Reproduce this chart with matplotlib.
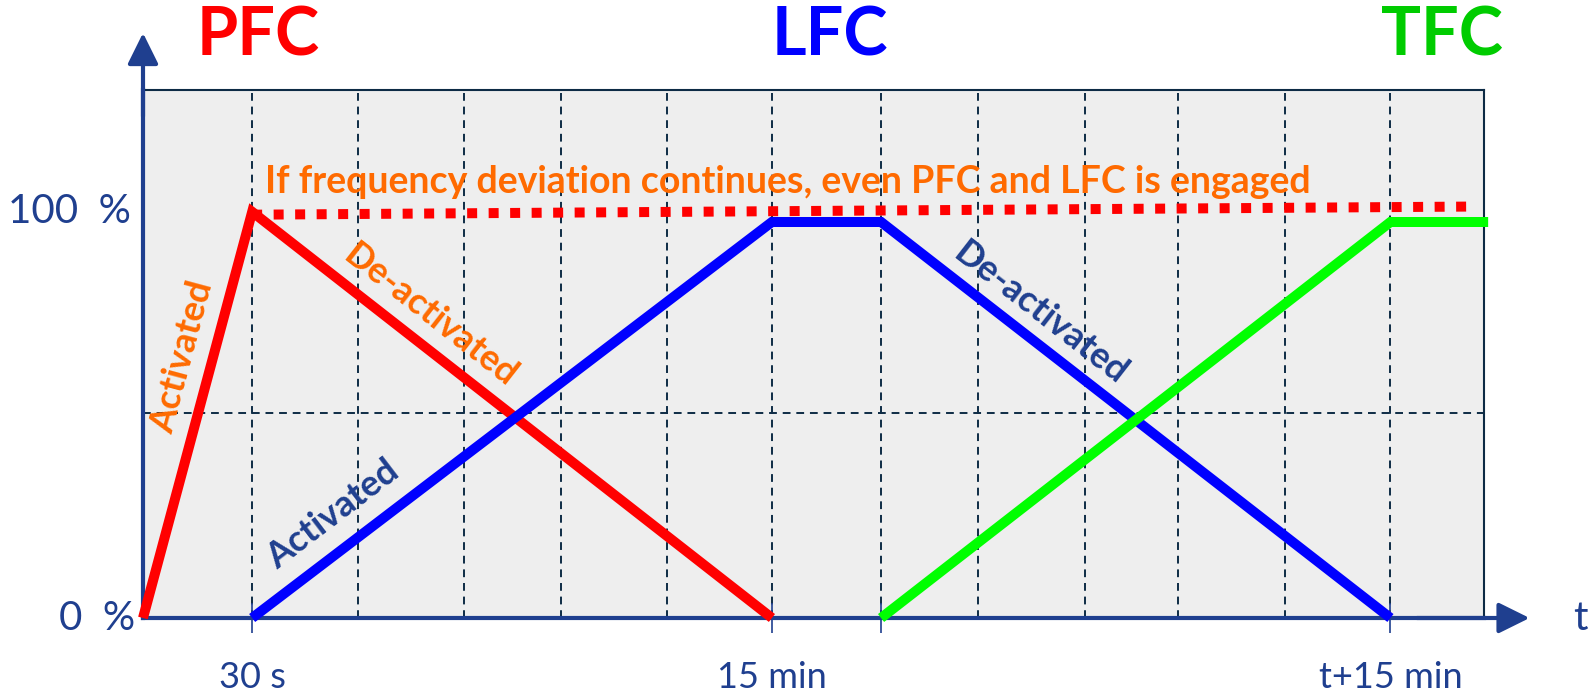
import numpy as np
import matplotlib
matplotlib.use("Agg")
import matplotlib.pyplot as plt

plt.rcParams['font.family'] = ['Lato', 'DejaVu Sans']

# time axis in grid steps, activation in percent
grid_t = [1.05, 2.07, 3.09, 4.02, 5.04, 6.05, 7.1, 8.03, 9.06, 9.96, 10.99, 12.0]
tick_t = [1.05, 6.05, 7.1, 12.0]
tick_labels = ["30 s", "15 min", "", "t+15 min"]

pfc_t = [0, 1.05, 6.05]
pfc_v = [0, 100, 0]
lfc_t = [1.05, 6.05, 7.1, 12.0]
lfc_v = [0, 97.5, 97.5, 0]
tfc_t = [7.1, 12.0, 12.94]
tfc_v = [0, 97.5, 97.5]
still_t = [1.05, 12.77]
still_v = [99.3, 101.3]

RED = "#ff0000"
BLUE = "#0000ff"
GREEN = "#00ff00"
ORANGE = "#ff6a00"
NAVY = "#1f3f8f"
GRID = "#0d2b45"

fig = plt.figure(figsize=(15.9, 6.95), dpi=100)
ax = fig.add_axes([143/1590, 1 - 618/695, 1341/1590, 528/695])
ax.set_facecolor("#eeeeee")
ax.set_xlim(0, 12.9)
ax.set_ylim(0, 130)

for g in grid_t:
    ax.axvline(g, color=GRID, lw=1.4, ls=(0, (4, 3)), zorder=1)
ax.axhline(50.5, color=GRID, lw=1.4, ls=(0, (4, 3)), zorder=1)

ax.plot(still_t, still_v, color=RED, lw=7.2, ls=(0, (1, 1.15)),
        dash_capstyle='butt', zorder=3)
kw = dict(lw=7.2, solid_capstyle='butt', solid_joinstyle='miter', clip_on=False, zorder=4)
ax.plot(pfc_t, pfc_v, color=RED, **kw)
ax.plot(lfc_t, lfc_v, color=BLUE, **kw)
ax.plot(tfc_t, tfc_v, color=GREEN, **kw)

# spines and axis arrows
for s in ['top', 'right']:
    ax.spines[s].set_color(GRID)
    ax.spines[s].set_linewidth(1.5)
for s in ['left', 'bottom']:
    ax.spines[s].set_color(NAVY)
    ax.spines[s].set_linewidth(3)
arrow = dict(arrowstyle='-|>,head_length=0.95,head_width=0.47', mutation_scale=20,
             color=NAVY, lw=3, shrinkA=0, shrinkB=0)
ax.annotate('', xy=(0, 1.108), xytext=(0, 0.95), xycoords='axes fraction',
            arrowprops=arrow, annotation_clip=False)
ax.annotate('', xy=(1.034, 0), xytext=(0.95, 0), xycoords='axes fraction',
            arrowprops=arrow, annotation_clip=False)

ax.set_xticks(tick_t)
ax.set_xticklabels(tick_labels)
ax.tick_params(axis='x', direction='inout', length=22, width=1.2, color=NAVY,
               labelcolor=NAVY, labelsize=26, pad=20)
ax.set_yticks([])
ax.text(-0.12, 100, "100  %", ha='right', va='center', color=NAVY, fontsize=29)
ax.text(-0.08, 0, "0  %", ha='right', va='center', color=NAVY, fontsize=29)
ax.text(1.072, 0, "t", transform=ax.transAxes, ha='center', va='center',
        color=NAVY, fontsize=29)

fig.text(258/1590, 1 - 37/695, "PFC", color=RED, fontsize=48, weight='bold', ha='center', va='center')
fig.text(830/1590, 1 - 37/695, "LFC", color=BLUE, fontsize=48, weight='bold', ha='center', va='center')
fig.text(1442/1590, 1 - 37/695, "TFC", color="#00cc00", fontsize=48, weight='bold', ha='center', va='center')

ax.text(1.17, 104.7, "If frequency deviation continues, even PFC and LFC is engaged",
        color=ORANGE, fontsize=27, weight='bold', ha='left', va='baseline')


def slope_angle(t, v):
    p = ax.transData.transform(np.column_stack([t, v]))
    return np.degrees(np.arctan2(p[1, 1] - p[0, 1], p[1, 0] - p[0, 0]))


lab = dict(fontsize=26, weight='bold', ha='center', va='center', rotation_mode='anchor')
ax.text(0.375, 64.3, "Activated", color=ORANGE,
        rotation=slope_angle(pfc_t[:2], pfc_v[:2]), **lab)
ax.text(2.76, 74.6, "De-activated", color=ORANGE,
        rotation=slope_angle(pfc_t[1:], pfc_v[1:]), **lab)
ax.text(1.83, 25.4, "Activated", color=NAVY,
        rotation=slope_angle(lfc_t[:2], lfc_v[:2]), **lab)
ax.text(8.63, 75.1, "De-activated", color=NAVY,
        rotation=slope_angle(lfc_t[2:], lfc_v[2:]), **lab)

fig.savefig("out.png", dpi=100)
